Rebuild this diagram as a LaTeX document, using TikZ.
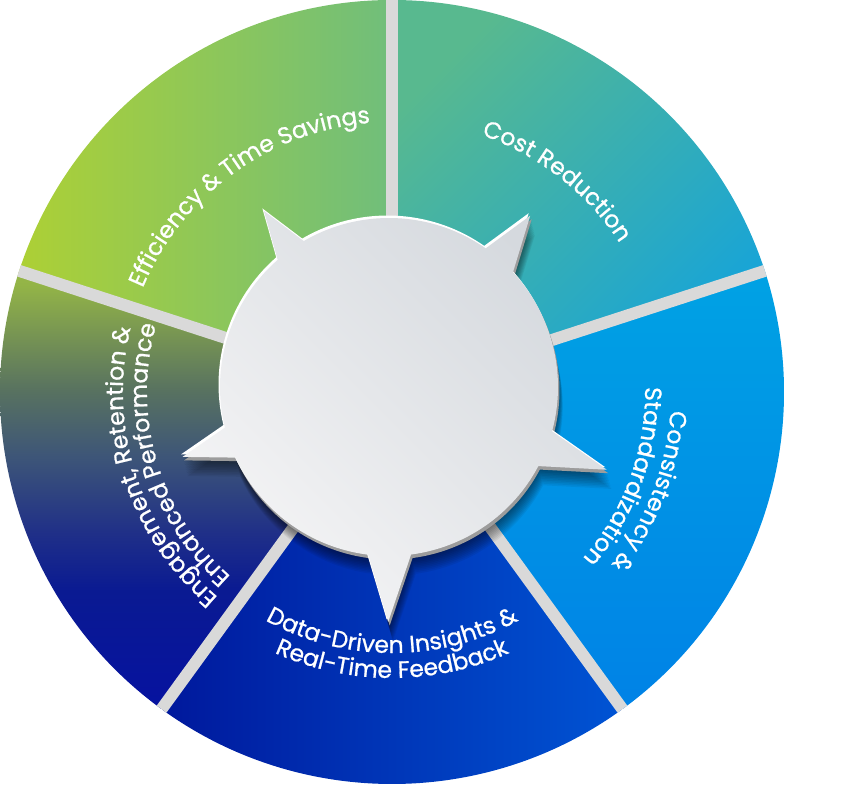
\documentclass[tikz,border=0pt]{standalone}
\usepackage{fontspec}
\newfontfamily\labelfam[FakeBold=0.8]{Poppins}
\usetikzlibrary{decorations.text}
\definecolor{sepgray}{HTML}{D9D9D9}
\definecolor{effL}{HTML}{ADD035}
\definecolor{effR}{HTML}{70BE7B}
\definecolor{costA}{HTML}{58B98F}
\definecolor{costB}{HTML}{14A3DB}
\definecolor{conA}{HTML}{00A2E4}
\definecolor{conB}{HTML}{0082E6}
\definecolor{datL}{HTML}{00189C}
\definecolor{datR}{HTML}{0054D4}
\definecolor{eng0}{HTML}{0612A0}
\definecolor{eng1}{HTML}{0A1A92}
\definecolor{eng2}{HTML}{1F2F88}
\definecolor{eng3}{HTML}{3D5578}
\definecolor{eng4}{HTML}{587260}
\definecolor{eng5}{HTML}{93B447}
\definecolor{eng6}{HTML}{96B746}
\definecolor{hubA}{HTML}{D5D9DE}
\definecolor{hubB}{HTML}{F5F5F6}
\definecolor{rimgray}{HTML}{9C9C9C}
\pgfdeclareverticalshading{engshade}{100bp}{color(0bp)=(eng0); color(25bp)=(eng0); color(38.5bp)=(eng1); color(45bp)=(eng2); color(53.75bp)=(eng3); color(61.4bp)=(eng4); color(73.4bp)=(eng5); color(75bp)=(eng6); color(100bp)=(eng6)}
\newcommand{\segpath}[2]{(O) -- ([shift={(O)}]#1:392pt) arc[start angle=#1, end angle=#2, radius=392pt] -- cycle}
\newcommand{\hubpath}{(-27.9:169pt) -- (-20.8:233pt) -- (-15.2:169pt) arc[start angle=-15.2, end angle=42.8, radius=169pt] -- (50.5:222pt) -- (55.1:169pt) arc[start angle=55.1, end angle=120.3, radius=169pt] -- (125.4:216pt) -- (131.2:169pt) arc[start angle=131.2, end angle=193.9, radius=169pt] -- (198.7:218pt) -- (204.7:169pt) arc[start angle=204.7, end angle=262.9, radius=169pt] -- (269.8:235pt) -- (277.5:169pt) arc[start angle=277.5, end angle=332.1, radius=169pt] -- cycle}
\newcommand{\labelfont}{\labelfam\fontsize{23.5}{28}\selectfont}
\newcommand{\arctext}[4]{\path[decorate, decoration={text along path, text align=center, text color=white, text={|\labelfont|#4}}] ([shift={(O)}]#1:#3pt) arc[start angle=#1, end angle=#2, radius=#3pt];}
\begin{document}
\begin{tikzpicture}[x=1pt,y=1pt]
\useasboundingbox (0,0) rectangle (841,800);
\coordinate (O) at (392,408);
\coordinate (H) at (389,413);
% segments
\begin{scope}
  \clip \segpath{90}{162};
  \shade[left color=effL, right color=effR] (19,408) rectangle (392,800);
\end{scope}
\begin{scope}
  \clip \segpath{18}{90};
  \shade[top color=costA, bottom color=costB, shading angle=45] (392,408) rectangle (784,800);
\end{scope}
\begin{scope}
  \clip \segpath{-54}{18};
  \shade[top color=conA, bottom color=conB] (392,91) rectangle (784,529);
\end{scope}
\begin{scope}
  \clip \segpath{-126}{-54};
  \shade[left color=datL, right color=datR] (162,16) rectangle (622,408);
\end{scope}
\begin{scope}
  \clip \segpath{162}{234};
  \shade[shading=engshade] (0,91) rectangle (392,529);
\end{scope}
% separators
\begin{scope}
  \clip (O) circle[radius=392pt];
  \foreach \a in {90,18,-54,-126,162}
    \draw[sepgray, line width=12pt] (O) -- ([shift={(O)}]\a:400pt);
\end{scope}
% labels
\arctext{166}{86}{270}{Efficiency {\&} Time Savings}
\arctext{92}{12}{272}{Cost Reduction}
\arctext{19}{-61}{279}{Consistency {\&}}
\arctext{20}{-60}{253}{Standardization}
\arctext{-135}{-45}{261}{Data-Driven Insights {\&}}
\arctext{-135}{-45}{286}{Real-Time Feedback}
\arctext{243}{153}{269}{Engagement, Retention {\&}}
\arctext{241.5}{151.5}{245}{Enhanced Performance}
% hub
\begin{scope}[shift={(H)}]
  \foreach \i in {1,...,12}
    \fill[black, opacity=0.06, shift={(0.4*\i,-1.6*\i)}] \hubpath;
  \fill[rimgray, shift={(1.5,-3.5)}] \hubpath;
  \fill[white, shift={(-1.5,2.5)}] \hubpath;
  \shade[top color=hubA, bottom color=hubB, shading angle=-45] \hubpath;
\end{scope}
\end{tikzpicture}
\end{document}
